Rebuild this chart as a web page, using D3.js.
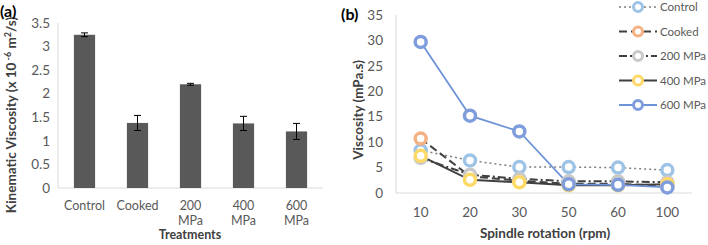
<!DOCTYPE html>
<html>
<head>
<meta charset="utf-8">
<script src="https://cdn.jsdelivr.net/npm/d3@7"></script>
<style>
  body { margin: 0; background: #fff; }
  svg text { font-family: Lato, "Open Sans", sans-serif; }
</style>
</head>
<body>
<svg class="chart"></svg>
<script>
// panel (a) data
var treatments = ["Control", "Cooked", "200 MPa", "400 MPa", "600 MPa"];
var kinVisc = [3.25, 1.38, 2.2, 1.37, 1.2];
var kinErr = [0.04, 0.16, 0.02, 0.15, 0.17];
var yTicksA = [0, 0.5, 1, 1.5, 2, 2.5, 3, 3.5];

// panel (b) data
var rpm = ["10", "20", "30", "50", "60", "100"];
var seriesNames = ["Control", "Cooked", "200 MPa", "400 MPa", "600 MPa"];
var control = [8.4, 6.4, 5.1, 5.1, 5.0, 4.5];
var cooked = [10.7, 3.3, 2.4, 1.8, 1.8, 1.4];
var mpa200 = [6.9, 3.6, 2.8, 2.3, 2.3, 2.1];
var mpa400 = [7.3, 2.6, 2.1, 1.5, 1.5, 1.7];
var mpa600 = [29.7, 15.2, 12.1, 1.7, 1.6, 1.1];
var yTicksB = [0, 5, 10, 15, 20, 25, 30, 35];

function show() {
    'use strict';
    var W = 708, H = 245;
    var svg = d3.select(".chart").attr("width", W).attr("height", H);
    var textCol = "#595959", axisCol = "#d9d9d9";

    // ---------- (a) ----------
    var ga = svg.append("g");
    var xa = d3.scaleBand().domain(treatments).range([58, 323]).paddingInner(0.6).paddingOuter(0.3);
    var ya = d3.scaleLinear().domain([0, 3.5]).range([188, 23]);

    ga.append("line").attr("x1", 58).attr("x2", 58).attr("y1", 23).attr("y2", 188)
        .attr("stroke", axisCol);
    ga.append("line").attr("x1", 58).attr("x2", 323).attr("y1", 188).attr("y2", 188)
        .attr("stroke", axisCol);

    ga.selectAll(".ytick").data(yTicksA).enter().append("text")
        .attr("x", 50).attr("y", function(d) { return ya(d); })
        .attr("dy", "0.35em").attr("text-anchor", "end")
        .attr("font-size", 13.5).attr("fill", textCol)
        .text(function(d) { return d; });

    ga.selectAll("rect").data(kinVisc).enter().append("rect")
        .attr("x", function(d, i) { return xa(treatments[i]); })
        .attr("width", xa.bandwidth())
        .attr("y", function(d) { return ya(d); })
        .attr("height", function(d) { return ya(0) - ya(d); })
        .attr("fill", "#595959");

    var eb = ga.selectAll(".err").data(kinVisc).enter().append("g")
        .attr("transform", function(d, i) { return "translate(" + (xa(treatments[i]) + xa.bandwidth() / 2) + ",0)"; });
    eb.append("line").attr("y1", function(d, i) { return ya(d - kinErr[i]); })
        .attr("y2", function(d, i) { return ya(d + kinErr[i]); }).attr("stroke", "#000");
    eb.append("line").attr("x1", -3.5).attr("x2", 3.5)
        .attr("y1", function(d, i) { return ya(d - kinErr[i]); })
        .attr("y2", function(d, i) { return ya(d - kinErr[i]); }).attr("stroke", "#000");
    eb.append("line").attr("x1", -3.5).attr("x2", 3.5)
        .attr("y1", function(d, i) { return ya(d + kinErr[i]); })
        .attr("y2", function(d, i) { return ya(d + kinErr[i]); }).attr("stroke", "#000");

    // category labels, wrapped onto two lines as separate texts
    treatments.forEach(function(d) {
        var cx = xa(d) + xa.bandwidth() / 2;
        d.split(" ").forEach(function(p, k) {
            ga.append("text").attr("x", cx).attr("y", 210 + k * 14.5)
                .attr("text-anchor", "middle").attr("font-size", 12.5)
                .attr("fill", textCol).text(p);
        });
    });

    ga.append("text").attr("x", 190).attr("y", 239).attr("text-anchor", "middle")
        .attr("font-size", 12.5).attr("font-weight", "bold").attr("fill", "#404040")
        .text("Treatments");

    var yt = ga.append("text").attr("transform", "translate(16,115) rotate(-90)")
        .attr("text-anchor", "middle").attr("font-size", 13.5).attr("font-weight", "bold")
        .attr("fill", "#404040");
    yt.append("tspan").text("Kinematic Viscosity (x 10");
    yt.append("tspan").attr("dy", -5).attr("font-size", 9).text(" -6");
    yt.append("tspan").attr("dy", 5).text(" m");
    yt.append("tspan").attr("dy", -5).attr("font-size", 9).text("2");
    yt.append("tspan").attr("dy", 5).text("/s)");

    svg.append("text").attr("x", 0).attr("y", 17).attr("font-size", 16)
        .attr("font-weight", "bold").attr("fill", "#000").text("(a)");

    // ---------- (b) ----------
    var gb = svg.append("g");
    var xb = d3.scalePoint().domain(rpm).range([396, 692]).padding(0.5);
    var yb = d3.scaleLinear().domain([0, 35]).range([193, 15]);

    gb.append("line").attr("x1", 396).attr("x2", 396).attr("y1", 15).attr("y2", 193)
        .attr("stroke", axisCol);
    gb.append("line").attr("x1", 396).attr("x2", 692).attr("y1", 193).attr("y2", 193)
        .attr("stroke", axisCol);

    gb.selectAll(".ytick").data(yTicksB).enter().append("text")
        .attr("x", 383).attr("y", function(d) { return yb(d); })
        .attr("dy", "0.35em").attr("text-anchor", "end")
        .attr("font-size", 13.5).attr("fill", textCol)
        .text(function(d) { return d; });

    gb.selectAll(".xtick").data(rpm).enter().append("text")
        .attr("x", function(d) { return xb(d); }).attr("y", 217)
        .attr("text-anchor", "middle").attr("font-size", 13.5).attr("fill", textCol)
        .text(function(d) { return d; });

    gb.append("text").attr("x", 545).attr("y", 238).attr("text-anchor", "middle")
        .attr("font-size", 13.5).attr("font-weight", "bold").attr("fill", "#404040")
        .text("Spindle rotation (rpm)");

    gb.append("text").attr("transform", "translate(363,110) rotate(-90)")
        .attr("text-anchor", "middle").attr("font-size", 13.5).attr("font-weight", "bold")
        .attr("fill", "#404040").text("Viscosity (mPa.s)");

    svg.append("text").attr("x", 341).attr("y", 20).attr("font-size", 16)
        .attr("font-weight", "bold").attr("fill", "#000").text("(b)");

    var series = [
        {name: seriesNames[0], vals: control, line: "#7f7f7f", dash: "2,3", w: 1.5, mk: "#9dc3e6"},
        {name: seriesNames[1], vals: cooked, line: "#404040", dash: "8,4", w: 2, mk: "#f4b183"},
        {name: seriesNames[2], vals: mpa200, line: "#404040", dash: "8,3,2,3", w: 2, mk: "#c9c9c9"},
        {name: seriesNames[3], vals: mpa400, line: "#404040", dash: null, w: 2, mk: "#ffd966"},
        {name: seriesNames[4], vals: mpa600, line: "#6f93d8", dash: null, w: 1.8, mk: "#7f9ddc"}
    ];

    var line = d3.line().x(function(d, i) { return xb(rpm[i]); }).y(function(d) { return yb(d); });

    series.forEach(function(s) {
        gb.append("path").datum(s.vals).attr("d", line).attr("fill", "none")
            .attr("stroke", s.line).attr("stroke-width", s.w)
            .attr("stroke-dasharray", s.dash);
    });
    series.forEach(function(s) {
        gb.selectAll(null).data(s.vals).enter().append("circle")
            .attr("cx", function(d, i) { return xb(rpm[i]); })
            .attr("cy", function(d) { return yb(d); })
            .attr("r", 5.5).attr("fill", "#fff")
            .attr("stroke", s.mk).attr("stroke-width", 3.5);
    });

    // legend
    var lg = svg.append("g");
    series.forEach(function(s, i) {
        var y = 7 + i * 24.5;
        lg.append("line").attr("x1", 619).attr("x2", 657).attr("y1", y).attr("y2", y)
            .attr("stroke", s.line).attr("stroke-width", s.w).attr("stroke-dasharray", s.dash);
        lg.append("circle").attr("cx", 638).attr("cy", y).attr("r", 4.5)
            .attr("fill", "#fff").attr("stroke", s.mk).attr("stroke-width", 3);
        lg.append("text").attr("x", 660).attr("y", y).attr("dy", "0.35em")
            .attr("font-size", 11.5).attr("fill", textCol).text(s.name);
    });
}
show();
</script>
</body>
</html>
